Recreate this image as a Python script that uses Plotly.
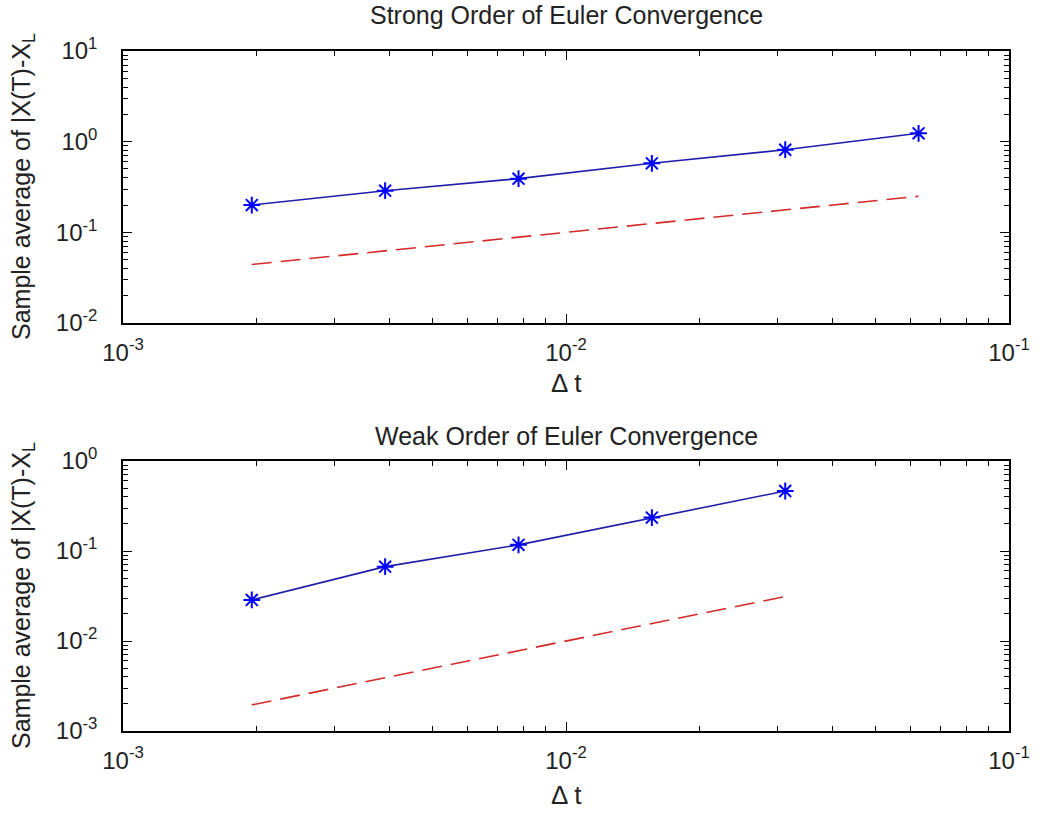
import plotly.graph_objects as go

# Data
dt_strong = [0.001953, 0.003906, 0.007813, 0.015625, 0.03125, 0.0625]
err_strong = [0.200, 0.288, 0.391, 0.577, 0.815, 1.236]
ref_strong = [0.0442, 0.0625, 0.0884, 0.125, 0.177, 0.25]

dt_weak = [0.001953, 0.003906, 0.007813, 0.015625, 0.03125]
err_weak = [0.0286, 0.067, 0.117, 0.235, 0.464]
ref_weak = [0.00195, 0.0039, 0.0078, 0.0156, 0.03125]

x_tickvals = [1e-3, 1e-2, 1e-1]
x_ticktext = ["10<sup>-3</sup>", "10<sup>-2</sup>", "10<sup>-1</sup>"]
y1_tickvals = [1e-2, 1e-1, 1e0, 1e1]
y1_ticktext = ["10<sup>-2</sup>", "10<sup>-1</sup>", "10<sup>0</sup>", "10<sup>1</sup>"]
y2_tickvals = [1e-3, 1e-2, 1e-1, 1e0]
y2_ticktext = ["10<sup>-3</sup>", "10<sup>-2</sup>", "10<sup>-1</sup>", "10<sup>0</sup>"]

titles = ["Strong Order of Euler Convergence", "Weak Order of Euler Convergence"]
xlabel = "Δ t"
ylabel = "Sample average of |X(T)-X<sub>L</sub>"

FONT = "Liberation Sans, Arial, sans-serif"
BLUE_LINE = "#1e1ea8"
BLUE_MK = "#0000ff"
RED = "#d42a2a"
TXT = "#222"

def minor_vals(lo, hi):
    vals = []
    for e in range(lo, hi):
        for m in range(2, 10):
            vals.append(m * 10 ** e)
    return vals

fig = go.Figure()

fig.add_trace(go.Scatter(x=dt_strong, y=err_strong, mode="lines+markers",
                         line=dict(color=BLUE_LINE, width=1.6),
                         marker=dict(symbol="asterisk-open", size=14, color=BLUE_MK,
                                     line=dict(color=BLUE_MK, width=2)),
                         xaxis="x", yaxis="y", showlegend=False))
fig.add_trace(go.Scatter(x=dt_strong, y=ref_strong, mode="lines",
                         line=dict(color=RED, width=1.6, dash="20px,9px"),
                         xaxis="x", yaxis="y", showlegend=False))
fig.add_trace(go.Scatter(x=dt_weak, y=err_weak, mode="lines+markers",
                         line=dict(color=BLUE_LINE, width=1.6),
                         marker=dict(symbol="asterisk-open", size=14, color=BLUE_MK,
                                     line=dict(color=BLUE_MK, width=2)),
                         xaxis="x2", yaxis="y2", showlegend=False))
fig.add_trace(go.Scatter(x=dt_weak, y=ref_weak, mode="lines",
                         line=dict(color=RED, width=1.6, dash="20px,9px"),
                         xaxis="x2", yaxis="y2", showlegend=False))

H_PLOT = 819 - 51 - 88
top_dom = [(731 - 323) / H_PLOT, 1.0]
bot_dom = [0.0, (731 - 461) / H_PLOT]

TICKSIZE = 24

def xaxis_cfg(anchor):
    return dict(type="log", range=[-3, -1], tickmode="array", tickvals=x_tickvals,
                ticktext=x_ticktext, ticks="inside", ticklen=9, tickwidth=1.3,
                tickcolor="black", showline=True, linecolor="black", linewidth=1.5,
                mirror="allticks", showgrid=False, zeroline=False, anchor=anchor,
                ticklabelstandoff=7,
                tickfont=dict(family=FONT, size=TICKSIZE, color=TXT),
                minor=dict(tickmode="array", tickvals=minor_vals(-3, -1), ticks="inside",
                           ticklen=5, tickwidth=1.3, tickcolor="black", showgrid=False))

def yaxis_cfg(anchor, rng, tv, tt, dom):
    return dict(type="log", range=rng, tickmode="array", tickvals=tv, ticktext=tt,
                ticks="inside", ticklen=9, tickwidth=1.3, tickcolor="black",
                showline=True, linecolor="black", linewidth=1.5, mirror="allticks",
                showgrid=False, zeroline=False, anchor=anchor, domain=dom,
                ticklabelstandoff=19,
                tickfont=dict(family=FONT, size=TICKSIZE, color=TXT),
                minor=dict(tickmode="array", tickvals=minor_vals(rng[0], rng[1]), ticks="inside",
                           ticklen=5, tickwidth=1.3, tickcolor="black", showgrid=False))

fig.update_layout(
    width=1042, height=819,
    margin=dict(l=123, r=25, t=51, b=88),
    paper_bgcolor="white", plot_bgcolor="white",
    xaxis=xaxis_cfg("y"),
    yaxis=yaxis_cfg("x", [-2, 1], y1_tickvals, y1_ticktext, top_dom),
    xaxis2=xaxis_cfg("y2"),
    yaxis2=yaxis_cfg("x2", [-3, 0], y2_tickvals, y2_ticktext, bot_dom),
)

annots = []
annots.append(dict(text=titles[0], x=0.5, y=top_dom[1], xref="paper", yref="paper",
                   yshift=36, showarrow=False, yanchor="middle",
                   font=dict(family=FONT, size=25, color=TXT)))
annots.append(dict(text=titles[1], x=0.5, y=bot_dom[1], xref="paper", yref="paper",
                   yshift=25, showarrow=False, yanchor="middle",
                   font=dict(family=FONT, size=25, color=TXT)))
annots.append(dict(text=xlabel, x=0.5, y=top_dom[0], xref="paper", yref="paper",
                   yshift=-60, showarrow=False, yanchor="middle",
                   font=dict(family=FONT, size=26, color=TXT)))
annots.append(dict(text=xlabel, x=0.5, y=bot_dom[0], xref="paper", yref="paper",
                   yshift=-64, showarrow=False, yanchor="middle",
                   font=dict(family=FONT, size=26, color=TXT)))
annots.append(dict(text=ylabel, x=0, y=(top_dom[0] + top_dom[1]) / 2, xref="paper", yref="paper",
                   xshift=-100, showarrow=False, textangle=-90, xanchor="center", yanchor="middle",
                   font=dict(family=FONT, size=25, color=TXT)))
annots.append(dict(text=ylabel, x=0, y=(bot_dom[0] + bot_dom[1]) / 2, xref="paper", yref="paper",
                   xshift=-100, showarrow=False, textangle=-90, xanchor="center", yanchor="middle",
                   font=dict(family=FONT, size=25, color=TXT)))
fig.update_layout(annotations=annots)

fig.write_html("out.html")
